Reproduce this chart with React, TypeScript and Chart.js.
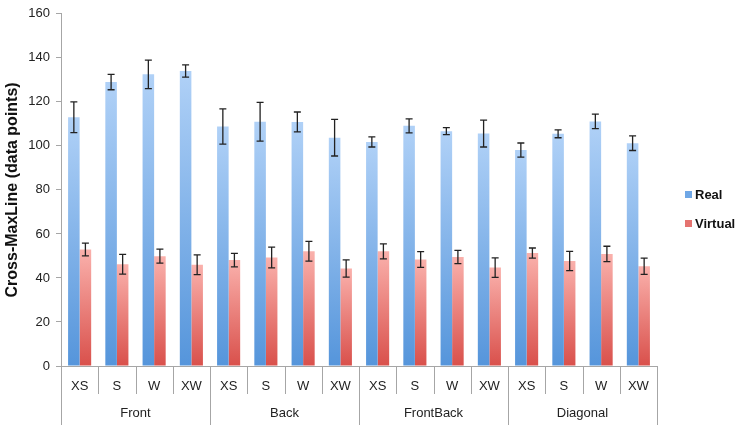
import { useEffect, useRef } from "react"
import { Chart, registerables } from "chart.js"

Chart.register(...registerables)

const groups = ["Front", "Back", "FrontBack", "Diagonal"]
const sizes = ["XS", "S", "W", "XW"]
const labels = groups.flatMap(() => sizes)

const realValues = [113, 129, 132.5, 134, 108.8, 111, 110.9, 103.7, 101.8, 109.1, 106.7, 105.6, 98.1, 105.5, 111.1, 101.2]
const realErrors = [7, 3.5, 6.5, 2.8, 8, 8.8, 4.5, 8.3, 2.3, 3.2, 1.6, 6.1, 3.2, 1.8, 3.3, 3.3]
const virtualValues = [52.9, 46.2, 49.9, 46.0, 48.1, 49.3, 52.1, 44.3, 52.1, 48.4, 49.5, 44.7, 51.3, 47.7, 50.9, 45.3]
const virtualErrors = [2.9, 4.5, 3.2, 4.5, 3.1, 4.7, 4.5, 3.9, 3.4, 3.6, 3, 4.4, 2.3, 4.4, 3.5, 3.7]

const FONT = "'Liberation Sans', Arial, sans-serif"
const AXIS_GREY = "#a6a6a6"

// per-bar vertical gradient, light at the top, darker at the base
function barGradient(light: string, dark: string, fallback: string) {
  return (context: any) => {
    const chart = context.chart
    const { ctx, chartArea, scales } = chart
    if (!chartArea || !scales.y || context.parsed == null) return fallback
    const top = scales.y.getPixelForValue(context.parsed.y)
    const bottom = scales.y.getPixelForValue(0)
    if (!isFinite(top) || bottom - top < 1) return fallback
    const g = ctx.createLinearGradient(0, top, 0, bottom)
    g.addColorStop(0, light)
    g.addColorStop(1, dark)
    return g
  }
}

const errorBarPlugin = {
  id: "errorBars",
  afterDatasetsDraw(chart: any) {
    const { ctx, scales } = chart
    const y = scales.y
    ctx.save()
    ctx.strokeStyle = "#222"
    ctx.lineWidth = 1.3
    chart.data.datasets.forEach((ds: any, di: number) => {
      const meta = chart.getDatasetMeta(di)
      meta.data.forEach((bar: any, i: number) => {
        const v = ds.data[i]
        const e = ds.errors[i]
        const yTop = y.getPixelForValue(v + e)
        const yBot = y.getPixelForValue(v - e)
        const cap = 3.5
        ctx.beginPath()
        ctx.moveTo(bar.x, yTop)
        ctx.lineTo(bar.x, yBot)
        ctx.moveTo(bar.x - cap, yTop)
        ctx.lineTo(bar.x + cap, yTop)
        ctx.moveTo(bar.x - cap, yBot)
        ctx.lineTo(bar.x + cap, yBot)
        ctx.stroke()
      })
    })
    ctx.restore()
  },
}

const groupAxisPlugin = {
  id: "groupAxis",
  afterDraw(chart: any) {
    const { ctx, chartArea, scales } = chart
    const x = scales.x
    const n = labels.length
    const half = (x.getPixelForValue(1) - x.getPixelForValue(0)) / 2
    ctx.save()
    ctx.strokeStyle = AXIS_GREY
    ctx.lineWidth = 1
    for (let i = 0; i <= n; i++) {
      const px = Math.round(i < n ? x.getPixelForValue(i) - half : x.getPixelForValue(n - 1) + half) + 0.5
      const isGroup = i % sizes.length === 0
      ctx.beginPath()
      ctx.moveTo(px, chartArea.bottom)
      ctx.lineTo(px, isGroup ? chart.height : chartArea.bottom + 28)
      ctx.stroke()
    }
    ctx.fillStyle = "#222"
    ctx.font = `13px ${FONT}`
    ctx.textAlign = "center"
    ctx.textBaseline = "middle"
    groups.forEach((g, gi) => {
      const a = x.getPixelForValue(gi * sizes.length)
      const b = x.getPixelForValue(gi * sizes.length + sizes.length - 1)
      ctx.fillText(g, (a + b) / 2, chartArea.bottom + 47)
    })

    // legend
    const legendColors = ["#6fa7e6", "#e57370"]
    ctx.font = `bold 13px ${FONT}`
    ctx.textAlign = "left"
    chart.data.datasets.forEach((ds: any, di: number) => {
      const cy = 195 + di * 29
      ctx.fillStyle = legendColors[di]
      ctx.fillRect(685, cy - 4, 7, 7)
      ctx.fillStyle = "#111"
      ctx.fillText(ds.label, 695, cy)
    })
    ctx.restore()
  },
}

export default function App() {
  const canvasRef = useRef<HTMLCanvasElement>(null)
  const chartRef = useRef<Chart | null>(null)

  useEffect(() => {
    if (!canvasRef.current) return
    const ctx = canvasRef.current.getContext("2d")
    if (!ctx) return
    if (chartRef.current) chartRef.current.destroy()

    chartRef.current = new Chart(ctx, {
      type: "bar",
      data: {
        labels,
        datasets: [
          {
            label: "Real",
            data: realValues,
            errors: realErrors,
            backgroundColor: barGradient("#b0d1f7", "#5595db", "#7fb1ea"),
          } as any,
          {
            label: "Virtual",
            data: virtualValues,
            errors: virtualErrors,
            backgroundColor: barGradient("#fab1ac", "#d9504b", "#ee8783"),
          } as any,
        ],
      },
      options: {
        animation: false,
        responsive: true,
        maintainAspectRatio: false,
        layout: { padding: { top: 7, right: 80, left: 0, bottom: 0 } },
        datasets: {
          bar: { categoryPercentage: 0.62, barPercentage: 1.0 },
        },
        plugins: {
          legend: { display: false },
          tooltip: { enabled: false },
        },
        scales: {
          x: {
            grid: { display: false, drawTicks: false },
            border: { display: true, color: AXIS_GREY },
            ticks: { color: "#222", padding: 13, font: { family: FONT, size: 13 } },
            afterFit: (scale: any) => {
              scale.height = 59
            },
          },
          y: {
            min: 0,
            max: 160,
            grid: { drawOnChartArea: false, drawTicks: true, tickLength: 5, color: AXIS_GREY },
            border: { display: true, color: AXIS_GREY },
            ticks: { stepSize: 20, color: "#222", padding: 6, font: { family: FONT, size: 13 } },
            title: {
              display: true,
              text: "Cross-MaxLine (data points)",
              color: "#111",
              font: { family: FONT, size: 16, weight: "bold" },
              padding: { top: 3, bottom: 0 },
            },
            afterFit: (scale: any) => {
              scale.width = 61
            },
          },
        },
      },
      plugins: [errorBarPlugin, groupAxisPlugin],
    })

    return () => {
      if (chartRef.current) {
        chartRef.current.destroy()
        chartRef.current = null
      }
    }
  }, [])

  return (
    <div style={{ position: "fixed", left: 0, top: 0, width: 737, height: 425, background: "#fff" }}>
      <canvas ref={canvasRef}></canvas>
    </div>
  )
}
